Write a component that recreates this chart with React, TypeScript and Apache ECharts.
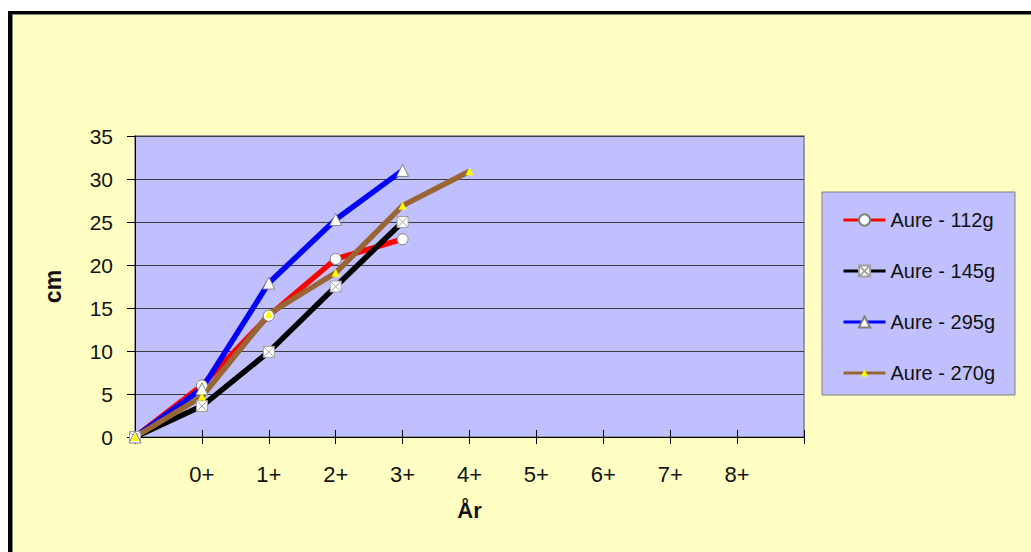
import React, { useEffect, useRef } from "react";
import * as echarts from "echarts";

const categories = ["", "0+", "1+", "2+", "3+", "4+", "5+", "6+", "7+", "8+", ""];
const seriesNames = ["Aure - 112g", "Aure - 145g", "Aure - 295g", "Aure - 270g"];
const aure112 = [0, 6.0, 14.1, 20.7, 23.0];
const aure145 = [0, 3.6, 9.9, 17.5, 25.0];
const aure295 = [0, 5.6, 17.9, 25.3, 31.0];
const aure270 = [0, 4.7, 14.3, 19.1, 26.9, 30.9];
const yTicks = { min: 0, max: 35, interval: 5 };

const FONT = "'Liberation Sans', Arial, Helvetica, sans-serif";
const XBOX = "path://M0,0 L10,0 L10,10 L0,10 Z M0,0 L10,10 M10,0 L0,10";

export default function App() {
  const ref = useRef<HTMLDivElement>(null);
  useEffect(() => {
    if (!ref.current) return;
    const chart = echarts.init(ref.current, undefined, { renderer: "svg" });
    const markerStyle = { color: "#FFFFFF", borderColor: "#808080", borderWidth: 1 };
    chart.setOption({
      animation: false,
      backgroundColor: "transparent",
      textStyle: { fontFamily: FONT },
      grid: {
        left: 135,
        top: 136,
        right: 1031 - 804,
        bottom: 552 - 437,
        show: true,
        backgroundColor: "#C0C0FF",
        borderColor: "#808080",
        borderWidth: 1.5,
      },
      legend: [
        {
          data: [seriesNames[0], seriesNames[1], seriesNames[2]],
          orient: "vertical",
          left: 822,
          top: 192,
          padding: [18, 20, 63, 20],
          itemWidth: 42,
          itemHeight: 14,
          itemGap: 31,
          backgroundColor: "#C0C0FF",
          borderColor: "#808080",
          borderWidth: 1,
          lineStyle: { width: 3 },
          textStyle: { fontFamily: FONT, fontSize: 20, color: "#111" },
        },
        {
          data: [seriesNames[3]],
          orient: "vertical",
          left: 842,
          top: 363,
          padding: 0,
          itemWidth: 42,
          itemHeight: 9,
          lineStyle: { width: 3 },
          textStyle: { fontFamily: FONT, fontSize: 20, color: "#111" },
        },
      ],
      xAxis: [
        {
          type: "category",
          data: categories,
          boundaryGap: false,
          axisLine: { lineStyle: { color: "#000", width: 1 } },
          axisTick: { show: true, length: 7, lineStyle: { color: "#000" } },
          axisLabel: { fontSize: 22, color: "#111", margin: 26, fontFamily: FONT },
          name: "År",
          nameLocation: "middle",
          nameGap: 62,
          nameTextStyle: { fontSize: 22, fontWeight: "bold", color: "#111", fontFamily: FONT },
          splitLine: { show: false },
        },
        {
          type: "category",
          data: categories,
          boundaryGap: false,
          position: "bottom",
          axisLine: { show: false },
          axisTick: { show: true, inside: true, length: 7, lineStyle: { color: "#000" } },
          axisLabel: { show: false },
          splitLine: { show: false },
        },
      ],
      yAxis: {
        type: "value",
        min: yTicks.min,
        max: yTicks.max,
        interval: yTicks.interval,
        axisLine: { show: true, lineStyle: { color: "#000", width: 1 } },
        axisTick: { show: true, length: 8, lineStyle: { color: "#000" } },
        axisLabel: { fontSize: 21, color: "#111", margin: 22, fontFamily: FONT },
        splitLine: { show: true, lineStyle: { color: "#3a3a3a", width: 1 } },
        name: "cm",
        nameLocation: "middle",
        nameGap: 71,
        nameTextStyle: { fontSize: 23, fontWeight: "bold", color: "#111", fontFamily: FONT },
      },
      series: [
        {
          name: seriesNames[0],
          type: "line",
          data: aure112,
          lineStyle: { color: "#FF0000", width: 5.5 },
          color: "#FF0000",
          symbol: "circle",
          symbolSize: 11,
          showAllSymbol: true,
          itemStyle: markerStyle,
        },
        {
          name: seriesNames[1],
          type: "line",
          data: aure145,
          lineStyle: { color: "#000000", width: 5.5 },
          color: "#000000",
          symbol: XBOX,
          symbolSize: 11,
          showAllSymbol: true,
          itemStyle: { color: "#FFFFFF", borderColor: "#A0A0A0", borderWidth: 1 },
        },
        {
          name: seriesNames[2],
          type: "line",
          data: aure295,
          lineStyle: { color: "#0000FF", width: 5.5 },
          color: "#0000FF",
          symbol: "triangle",
          symbolSize: 12,
          showAllSymbol: true,
          itemStyle: markerStyle,
        },
        {
          name: seriesNames[3],
          type: "line",
          data: aure270,
          lineStyle: { color: "#996633", width: 5.5 },
          color: "#996633",
          symbol: "triangle",
          symbolSize: 8,
          showAllSymbol: true,
          itemStyle: { color: "#FFFF00", borderWidth: 0 },
        },
      ],
    });
    return () => chart.dispose();
  }, []);

  return (
    <div
      style={{
        position: "absolute",
        left: 0,
        top: 0,
        width: 1031,
        height: 552,
        background: "#FFFFFF",
        overflow: "hidden",
      }}
    >
      <div
        style={{
          position: "absolute",
          left: 8,
          top: 11,
          width: 1100,
          height: 600,
          background: "#FFFFC4",
          borderLeft: "4px solid #000",
          borderTop: "3px solid #000",
          boxShadow: "inset 1px 1px 0 #808080",
        }}
      />
      <div ref={ref} style={{ position: "absolute", left: 0, top: 0, width: 1031, height: 552 }} />
    </div>
  );
}
